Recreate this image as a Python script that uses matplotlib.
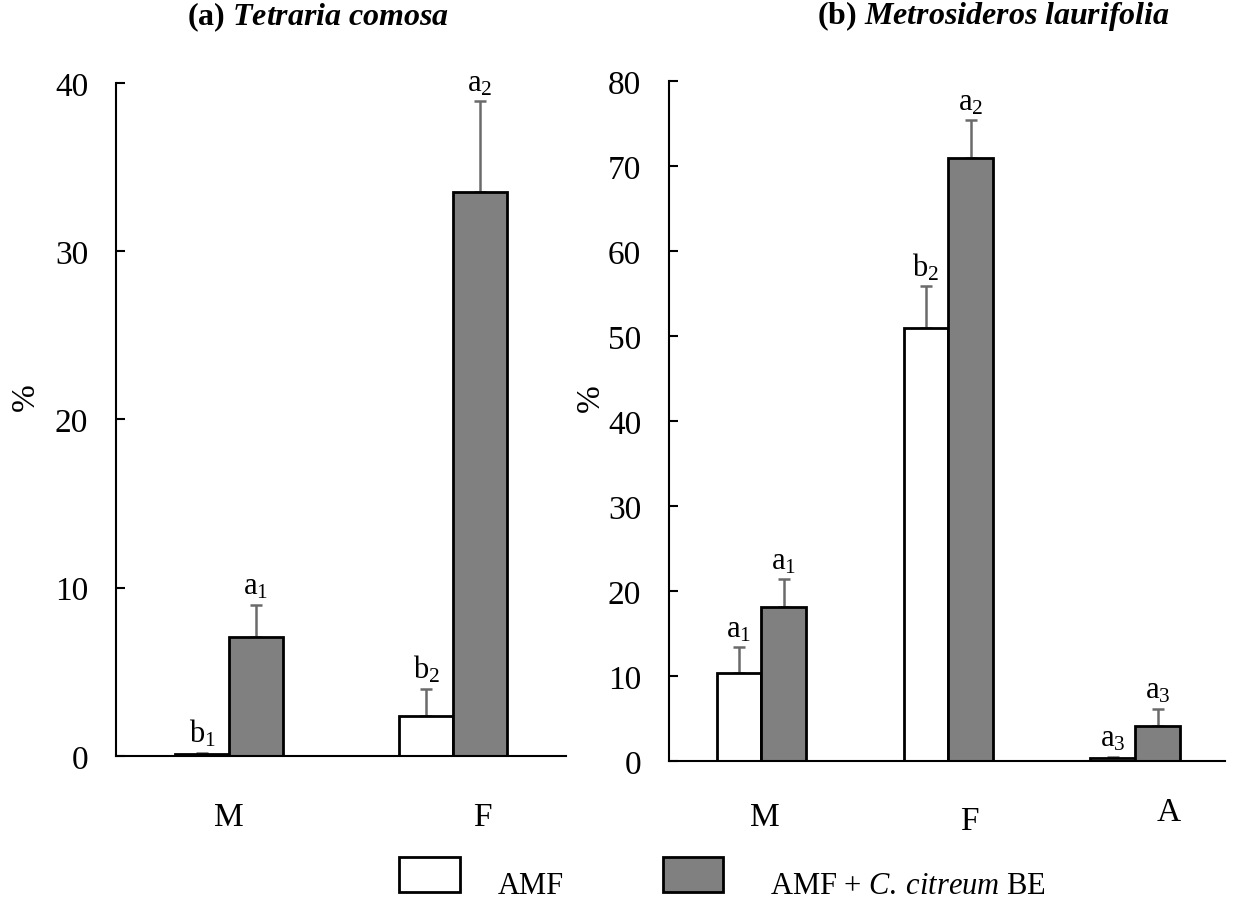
import matplotlib
matplotlib.use("Agg")
import matplotlib.pyplot as plt
import numpy as np
from matplotlib.patches import Rectangle

plt.rcParams["font.family"] = ["Liberation Serif", "DejaVu Serif"]
plt.rcParams["mathtext.fontset"] = "custom"
plt.rcParams["mathtext.rm"] = "Liberation Serif"
plt.rcParams["mathtext.it"] = "Liberation Serif:italic"
plt.rcParams["mathtext.bf"] = "Liberation Serif:bold"
plt.rcParams["mathtext.bfit"] = "Liberation Serif:italic:bold"

# panel (a) Tetraria comosa
cats_a = ["M", "F"]
cat_pos_a = [0.0, 1.13]
amf_a = [0.1, 2.4]
amf_a_err = [0.1, 1.6]
be_a = [7.1, 33.5]
be_a_err = [1.9, 5.4]
lab_amf_a = ["b$_1$", "b$_2$"]
lab_be_a = ["a$_1$", "a$_2$"]

# panel (b) Metrosideros laurifolia
cats_b = ["M", "F", "A"]
cat_pos_b = [0.02, 1.11, 2.18]
amf_b = [10.4, 51.0, 0.35]
amf_b_err = [3.0, 4.9, 0.2]
be_b = [18.1, 71.0, 4.15]
be_b_err = [3.3, 4.4, 2.05]
lab_amf_b = ["a$_1$", "b$_2$", "a$_3$"]
lab_be_b = ["a$_1$", "a$_2$", "a$_3$"]

FS = 24
W = 0.24
GRAY = "#808080"
ECOL = "#6a6a6a"


def draw_panel(ax, amf, amf_err, be, be_err, lab_amf, lab_be):
    x = np.arange(len(amf))
    for xs, vals, errs, labs, col in [
        (x - W / 2, amf, amf_err, lab_amf, "white"),
        (x + W / 2, be, be_err, lab_be, GRAY),
    ]:
        ax.bar(xs, vals, W, color=col, edgecolor="black", linewidth=2, zorder=2)
        ax.errorbar(xs, vals, yerr=[np.zeros(len(vals)), errs], fmt="none",
                    ecolor=ECOL, elinewidth=1.8, capsize=4, capthick=1.8, zorder=1)
        for xi, v, e, lb in zip(xs, vals, errs, labs):
            ax.annotate(lb, (xi, v + e), xytext=(0, 3), textcoords="offset points",
                        ha="center", va="bottom", fontsize=22)
    for s in ["top", "right"]:
        ax.spines[s].set_visible(False)
    for s in ["left", "bottom"]:
        ax.spines[s].set_linewidth(1.5)
    ax.set_xticks([])
    ax.tick_params(axis="y", direction="in", length=6.5, width=1.5, labelsize=FS, pad=20)


fig = plt.figure(figsize=(12.37, 9.03), dpi=100)
ax1 = fig.add_axes([0.0938, 0.1617, 0.3638, 0.7453])
ax2 = fig.add_axes([0.5408, 0.1558, 0.4495, 0.753])

draw_panel(ax1, amf_a, amf_a_err, be_a, be_a_err, lab_amf_a, lab_be_a)
ax1.set_xlim(-0.504, 1.504)
ax1.set_ylim(0, 40)
ax1.set_yticks([0, 10, 20, 30, 40])
ax1.set_ylabel("%", fontsize=FS)
ax1.yaxis.set_label_coords(-0.167, 0.535)
for xi, c in zip(cat_pos_a, cats_a):
    ax1.text(xi, -0.09, c, transform=ax1.get_xaxis_transform(), ha="center", va="center", fontsize=FS)
ax1.set_title("(a) $\\mathbfit{Tetraria\\ comosa}$", fontsize=23, fontweight="bold",
              x=0.449, y=1.0, pad=42)

draw_panel(ax2, amf_b, amf_b_err, be_b, be_b_err, lab_amf_b, lab_be_b)
ax2.set_xlim(-0.495, 2.48)
ax2.set_ylim(0, 80)
ax2.set_yticks(range(0, 81, 10))
ax2.set_ylabel("%", fontsize=FS)
ax2.yaxis.set_label_coords(-0.113, 0.535)
for xi, c, yo in zip(cat_pos_b, cats_b, [-0.082, -0.088, -0.074]):
    ax2.text(xi, yo, c, transform=ax2.get_xaxis_transform(), ha="center", va="center", fontsize=FS)
ax2.set_title("(b) $\\mathbfit{Metrosideros\\ laurifolia}$", fontsize=23, fontweight="bold",
              x=0.583, y=1.0, pad=42)

# legend
fig.patches.append(Rectangle((399 / 1237, 1 - 893 / 903), 61 / 1237, 35 / 903,
                             transform=fig.transFigure, facecolor="white", edgecolor="black", lw=2))
fig.text(498 / 1237, 1 - 887 / 903, "AMF", fontsize=22, va="center", ha="left")
fig.patches.append(Rectangle((663 / 1237, 1 - 893 / 903), 60 / 1237, 35 / 903,
                             transform=fig.transFigure, facecolor=GRAY, edgecolor="black", lw=2))
fig.text(770 / 1237, 1 - 887 / 903, "AMF + $\\mathit{C.\\:citreum}$ BE", fontsize=22,
         va="center", ha="left")

fig.savefig("out.png", dpi=100)
